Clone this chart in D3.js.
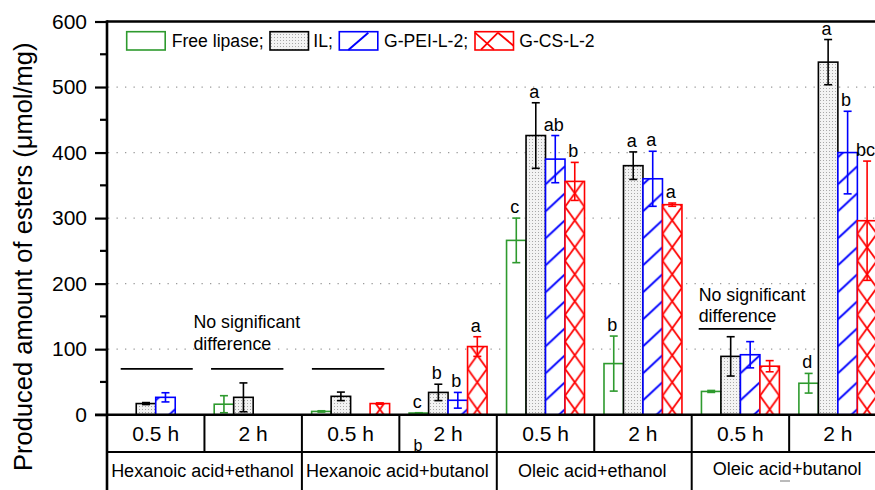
<!DOCTYPE html>
<html>
<head>
<meta charset="utf-8">
<script src="https://cdn.jsdelivr.net/npm/d3@7"></script>
<style>
  body { margin: 0; background: #fff; }
  svg { display: block; }
  text { font-family: Arial, "Liberation Sans", sans-serif; fill: #000; }
</style>
</head>
<body>
<svg id="chart" width="875" height="490"></svg>
<script>
// Substrate pairs and reaction times
const groups = ["Hexanoic acid+ethanol", "Hexanoic acid+butanol", "Oleic acid+ethanol", "Oleic acid+butanol"];
const times = ["0.5 h", "2 h"];
const seriesNames = ["Free lipase", "IL", "G-PEI-L-2", "G-CS-L-2"];

// Produced esters (µmol/mg), one entry per group/time cell; null = not measured
const freeLipase    = [null, 16, 5, 2.5, 266, 78, 35.5, 48];
const freeLipaseErr = [null, 13, 1, 0.5, 34, 42, 1.5, 15];
const ilValues      = [17, 26.5, 28, 34, 426, 380, 89, 538];
const ilErr         = [1.5, 22, 6.5, 12.5, 50, 21, 30, 34.5];
const gpeiValues    = [26.5, null, null, 22, 390, 360, 91.5, 400];
const gpeiErr       = [7, null, null, 12, 36, 42, 20, 63];
const gcsValues     = [null, null, 17, 104, 356, 320.5, 74, 296];
const gcsErr        = [null, null, 1, 15, 29, 2.5, 8.5, 91];

// Significance letters
const freeLetters = ["", "", "", "c", "c", "b", "", "d"];
const ilLetters   = ["", "", "", "b", "a", "a", "", "a"];
const gpeiLetters = ["", "", "", "b", "ab", "a", "", "b"];
const gcsLetters  = ["", "", "", "a", "b", "a", "", "bc"];

const yTicks = [0, 100, 200, 300, 400, 500, 600];
const yMinorTicks = [50, 150, 250, 350, 450, 550];

const seriesData = [
  { name: seriesNames[0], values: freeLipase, err: freeLipaseErr, letters: freeLetters, color: "#2e9a2e", fill: "#fff" },
  { name: seriesNames[1], values: ilValues, err: ilErr, letters: ilLetters, color: "#000", fill: "url(#stipple)" },
  { name: seriesNames[2], values: gpeiValues, err: gpeiErr, letters: gpeiLetters, color: "#0000ff", fill: "url(#slash)" },
  { name: seriesNames[3], values: gcsValues, err: gcsErr, letters: gcsLetters, color: "#ff0000", fill: "url(#cross)" }
];

const svg = d3.select("#chart");
const W = 875;
const plotLeft = 107, plotTop = 21.5, baseY = 414.7, rowLine = 452, tableBottom = 490, plotRight = 886.6;

const cells = groups.flatMap(g => times.map(t => g + "|" + t));
const x = d3.scaleBand().domain(cells).range([plotLeft, plotRight]);
const xGroup = d3.scaleBand().domain(groups).range([plotLeft, plotRight]);
const inner = d3.scaleBand().domain(seriesNames).range([0, x.bandwidth()]).paddingInner(0).paddingOuter(0.5);
const y = d3.scaleLinear().domain([0, 600]).range([baseY, plotTop]);

const bw = inner.bandwidth();
const barOrigin = x(cells[0]) + inner(seriesNames[0]);

// Fill patterns
const defs = svg.append("defs");
const stip = defs.append("pattern").attr("id", "stipple").attr("patternUnits", "userSpaceOnUse")
  .attr("width", 3).attr("height", 3);
stip.append("rect").attr("width", 3).attr("height", 3).attr("fill", "#f3f3f3");
stip.append("rect").attr("x", 1).attr("y", 1).attr("width", 1).attr("height", 1).attr("fill", "#a8a8a8");

const slash = defs.append("pattern").attr("id", "slash").attr("patternUnits", "userSpaceOnUse")
  .attr("x", barOrigin).attr("y", 162.3).attr("width", bw).attr("height", 27);
slash.append("rect").attr("width", bw).attr("height", 27).attr("fill", "#fff");
slash.append("line").attr("x1", 0).attr("y1", 22).attr("x2", bw).attr("y2", 4)
  .attr("stroke", "#0000ff").attr("stroke-width", 2);

const cross = defs.append("pattern").attr("id", "cross").attr("patternUnits", "userSpaceOnUse")
  .attr("x", barOrigin).attr("y", baseY - 18.9).attr("width", bw).attr("height", 27);
cross.append("rect").attr("width", bw).attr("height", 27).attr("fill", "#fff");
cross.append("line").attr("x1", -0.5).attr("y1", -0.7).attr("x2", bw + 0.5).attr("y2", 27.7)
  .attr("stroke", "#ff0000").attr("stroke-width", 1.8);
cross.append("line").attr("x1", bw + 0.5).attr("y1", -0.7).attr("x2", -0.5).attr("y2", 27.7)
  .attr("stroke", "#ff0000").attr("stroke-width", 1.8);

// Dotted gridlines
svg.append("g").selectAll("line").data(yTicks.filter(t => t > 0 && t < 600)).join("line")
  .attr("x1", plotLeft + 1).attr("x2", W).attr("y1", d => y(d)).attr("y2", d => y(d))
  .attr("stroke", "#9a9a9a").attr("stroke-width", 1.3).attr("stroke-dasharray", "1.3,7.2");

// Bars
const barsG = svg.append("g");
seriesData.forEach(s => {
  s.values.forEach((v, i) => {
    if (v == null) return;
    const bx = x(cells[i]) + inner(s.name);
    barsG.append("rect")
      .attr("x", bx).attr("y", y(v)).attr("width", bw).attr("height", baseY - y(v))
      .attr("fill", s.fill).attr("stroke", s.color).attr("stroke-width", 1.6);
  });
});

// Error bars and letters
const errG = svg.append("g");
seriesData.forEach(s => {
  s.values.forEach((v, i) => {
    if (v == null) return;
    const e = s.err[i];
    const cx = x(cells[i]) + inner(s.name) + bw / 2;
    const yt = y(v + e), yb = y(Math.max(0, v - e));
    errG.append("line").attr("x1", cx).attr("x2", cx).attr("y1", yt).attr("y2", yb)
      .attr("stroke", s.color).attr("stroke-width", 1.6);
    [yt, yb].forEach(yy => errG.append("line")
      .attr("x1", cx - 4).attr("x2", cx + 4).attr("y1", yy).attr("y2", yy)
      .attr("stroke", s.color).attr("stroke-width", 1.6));
    if (s.letters[i]) {
      errG.append("text").attr("x", cx - 1.5).attr("y", yt - 5)
        .attr("text-anchor", "middle").attr("font-size", 18).text(s.letters[i]);
    }
  });
});

// Y axis
const yAxis = svg.append("g").attr("transform", `translate(${plotLeft},0)`)
  .call(d3.axisLeft(y).tickValues(yTicks).tickSize(12).tickPadding(8).tickSizeOuter(0));
yAxis.select(".domain").remove();
yAxis.selectAll(".tick line").attr("stroke", "#000").attr("stroke-width", 2.2);
yAxis.selectAll(".tick text").attr("font-size", 21).attr("font-family", "Arial, 'Liberation Sans', sans-serif").attr("fill", "#000");
svg.append("g").selectAll("line").data(yMinorTicks).join("line")
  .attr("x1", plotLeft - 7).attr("x2", plotLeft).attr("y1", d => y(d)).attr("y2", d => y(d))
  .attr("stroke", "#000").attr("stroke-width", 2.2);

svg.append("text")
  .attr("transform", `translate(32,${(plotTop + tableBottom) / 2 + 1}) rotate(-90)`)
  .attr("text-anchor", "middle").attr("font-size", 25.5)
  .text("Produced amount of esters (\u03bcmol/mg)");

// Frame lines
const frame = svg.append("g").attr("stroke", "#000");
frame.append("line").attr("x1", plotLeft).attr("x2", W).attr("y1", plotTop).attr("y2", plotTop).attr("stroke-width", 2.6);
frame.append("line").attr("x1", plotLeft).attr("x2", plotLeft).attr("y1", plotTop - 1.3).attr("y2", tableBottom).attr("stroke-width", 2.6);
frame.append("line").attr("x1", plotLeft - 12).attr("x2", plotRight).attr("y1", baseY).attr("y2", baseY).attr("stroke-width", 2.6);

// Category table under the axis
frame.append("line").attr("x1", plotLeft).attr("x2", plotRight).attr("y1", rowLine).attr("y2", rowLine).attr("stroke-width", 2);
frame.selectAll(".cellDiv").data(cells.slice(1)).join("line")
  .attr("x1", d => x(d)).attr("x2", d => x(d)).attr("y1", baseY).attr("y2", rowLine).attr("stroke-width", 2);
frame.selectAll(".groupDiv").data(groups.slice(1)).join("line")
  .attr("x1", d => xGroup(d)).attr("x2", d => xGroup(d)).attr("y1", rowLine).attr("y2", tableBottom).attr("stroke-width", 2);

svg.append("g").selectAll("text").data(cells).join("text")
  .attr("x", d => x(d) + x.bandwidth() / 2).attr("y", 441)
  .attr("text-anchor", "middle").attr("font-size", 21)
  .text(d => d.split("|")[1]);
svg.append("g").selectAll("text").data(groups).join("text")
  .attr("x", d => xGroup(d) + xGroup.bandwidth() / 2 - 2).attr("y", (d, i) => i === 3 ? 474.5 : 476.5)
  .attr("text-anchor", "middle").attr("font-size", 18)
  .text(d => d);
svg.append("text").attr("x", 418).attr("y", 451).attr("text-anchor", "middle").attr("font-size", 16).text("b");
svg.append("line").attr("x1", 780).attr("x2", 790).attr("y1", 481).attr("y2", 481).attr("stroke", "#777").attr("stroke-width", 1);

// "No significant difference" notes
const note = svg.append("g");
const nsLines = [[cells[0], 13.7, 11.7], [cells[1], 6.6, 18.5], [cells[2], 10, 15]];
nsLines.forEach(([c, a, b]) => note.append("line")
  .attr("x1", x(c) + a).attr("x2", x(c) + x.bandwidth() - b)
  .attr("y1", y(70)).attr("y2", y(70)).attr("stroke", "#000").attr("stroke-width", 1.6));
note.append("text").attr("x", x(cells[1]) - 11).attr("y", y(132)).attr("font-size", 17.8).text("No significant");
note.append("text").attr("x", x(cells[1]) - 11).attr("y", y(99)).attr("font-size", 17.8).text("difference");
note.append("text").attr("x", x(cells[6]) + 7).attr("y", y(174)).attr("font-size", 17.8).text("No significant");
note.append("text").attr("x", x(cells[6]) + 7).attr("y", y(141)).attr("font-size", 17.8).text("difference");
note.append("line").attr("x1", x(cells[6]) + 7).attr("x2", x(cells[6]) + 79.5)
  .attr("y1", y(131)).attr("y2", y(131)).attr("stroke", "#000").attr("stroke-width", 1.6);

// Legend
const legend = svg.append("g");
const legendItems = [
  { label: "Free lipase;", rx: 126.7, tx: 171.7, s: seriesData[0] },
  { label: "IL;", rx: 270, tx: 313.3, s: seriesData[1] },
  { label: "G-PEI-L-2;", rx: 339.3, tx: 384, s: seriesData[2] },
  { label: "G-CS-L-2", rx: 475, tx: 519.3, s: seriesData[3] }
];
const ly = 31.7, lw = 38.5, lh = 18.3;
legendItems.forEach((it, k) => {
  legend.append("rect").attr("x", it.rx).attr("y", ly).attr("width", lw).attr("height", lh)
    .attr("fill", k === 1 ? "url(#stipple)" : "#fff").attr("stroke", it.s.color).attr("stroke-width", 1.6);
  if (k === 2) {
    legend.append("line").attr("x1", it.rx + 9).attr("y1", ly + lh).attr("x2", it.rx + 29).attr("y2", ly + 1)
      .attr("stroke", "#0000ff").attr("stroke-width", 2);
  }
  if (k === 3) {
    const segs = [[0, 1, 19, 18], [6, 18, 23, 1], [23, 1, lw, 14]];
    segs.forEach(([a, b, c, d]) => legend.append("line")
      .attr("x1", it.rx + a).attr("y1", ly + b).attr("x2", it.rx + c).attr("y2", ly + d)
      .attr("stroke", "#ff0000").attr("stroke-width", 1.8));
  }
  legend.append("text").attr("x", it.tx).attr("y", 46.8).attr("font-size", 17.6).text(it.label);
});
</script>
</body>
</html>
